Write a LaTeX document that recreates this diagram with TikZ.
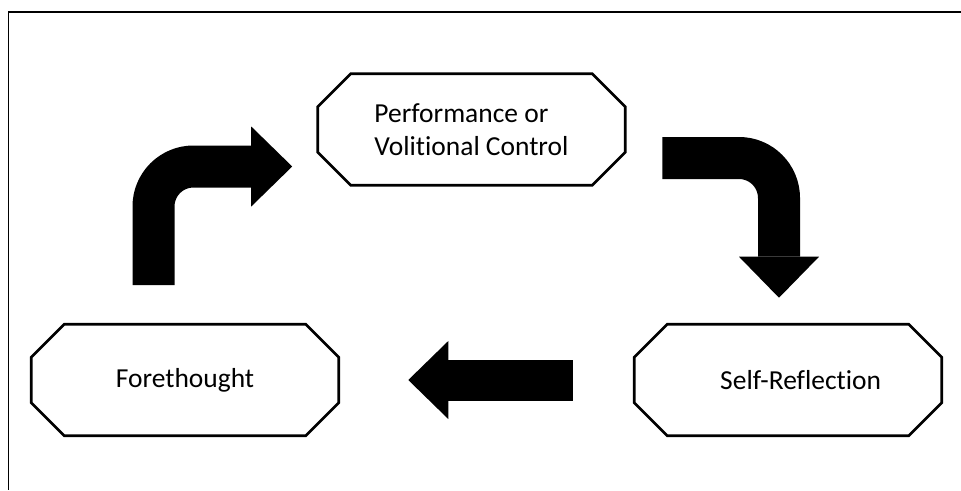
\documentclass[tikz,border=0pt]{standalone}
\usepackage{fontspec}
\setmainfont{Carlito}[Ligatures={NoCommon,NoRequired,NoContextual}]
\usetikzlibrary{calc, positioning, arrows.meta}

\begin{document}
\begin{tikzpicture}[x=0.75pt, y=-0.75pt,
        phase/.style={rectangle, minimum width=230.25pt, minimum height=83.25pt, inner sep=0pt, font=\fontsize{20.6}{24.8}\selectfont},
        octside/.style={line width=2pt, line join=miter},
        bigarrow/.style={line width=31.5pt, rounded corners=30pt, -{Triangle[length=30.75pt, width=60pt, line width=0pt]}}
    ]
        \useasboundingbox (0,0) rectangle (961,490);

        % Frame (open on the right and at the bottom)
        \draw[line width=1.2pt] (961,12) -- (8.5,12) -- (8.5,490);

        % Nodes
        \node[phase, align=left] (perf) at (471.5,129.5) {Performance or\\Volitional Control};
        \node[phase] (fore) at (185,380) {Forethought};
        \node[phase] (self) at (788,380) {\hspace*{19pt}Self-Reflection};

        % Cut-corner outlines
        \foreach \n in {perf, fore, self}
            \draw[octside] ($(\n.north west)+(33,0)$) -- ($(\n.north east)+(-33,0)$)
                -- ($(\n.north east)+(0,33)$) -- ($(\n.south east)+(0,-33)$)
                -- ($(\n.south east)+(-33,0)$) -- ($(\n.south west)+(33,0)$)
                -- ($(\n.south west)+(0,-33)$) -- ($(\n.north west)+(0,33)$) -- cycle;

        % Arrow ends
        \coordinate (fore_up) at ($(fore.north)+(-31.5,-39)$);
        \coordinate (perf_in) at ($(perf.west)+(-25.5,37)$);
        \coordinate (perf_out) at ($(perf.east)+(37,28.5)$);
        \coordinate (self_in) at ($(self.north)+(-9,-26.5)$);
        \coordinate (self_out) at ($(self.west)+(-61.5,0)$);
        \coordinate (fore_in) at ($(fore.east)+(69.5,0)$);

        % Block arrows
        \draw[bigarrow] (fore_up) |- (perf_in);
        \draw[bigarrow] (perf_out) -| (self_in);
        \draw[bigarrow, line width=30.75pt, -{Triangle[length=30pt, width=58.5pt, line width=0pt]}] (self_out) -- (fore_in);

    \end{tikzpicture}
\end{document}
